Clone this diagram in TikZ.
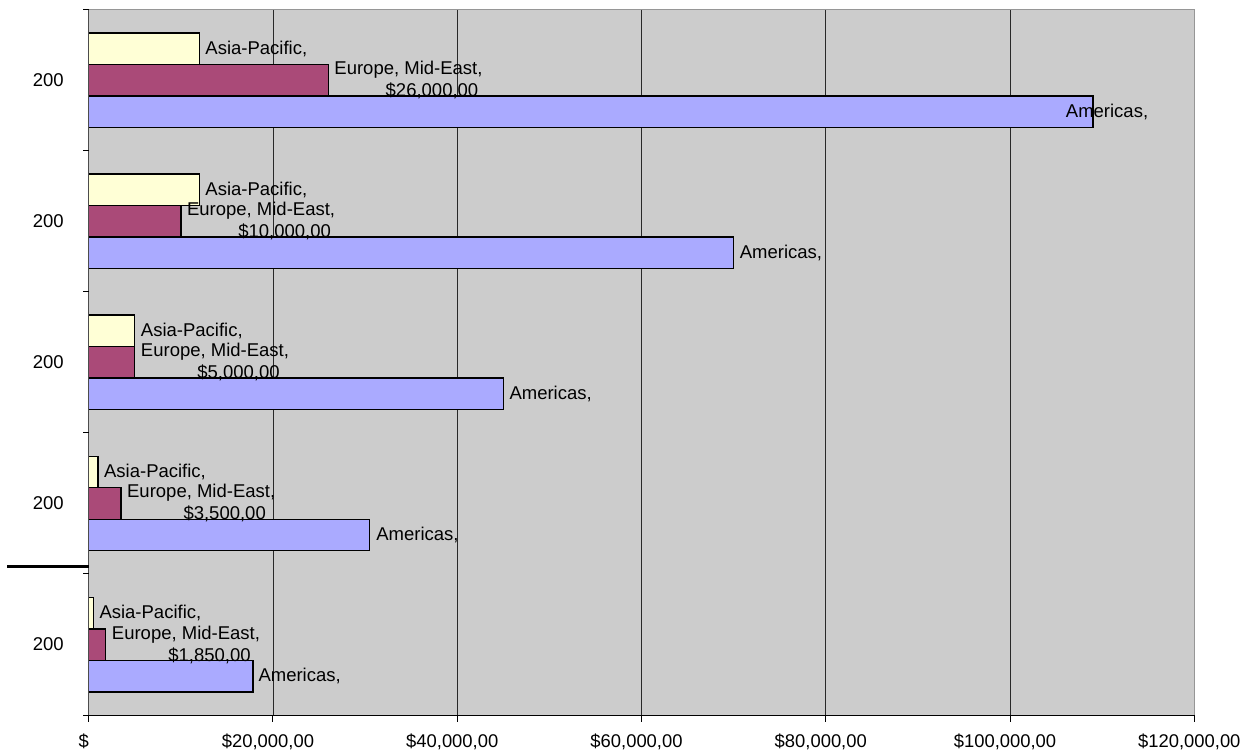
\documentclass[tikz,border=0pt]{standalone}
\usepackage{fontspec}
\setmainfont{Liberation Sans}
\definecolor{plotbg}{RGB}{204,204,204}
\definecolor{asiac}{RGB}{255,255,214}
\definecolor{euroc}{RGB}{170,74,120}
\definecolor{amerc}{RGB}{170,170,255}
\definecolor{gridc}{RGB}{40,40,40}
\definecolor{borderc}{RGB}{150,150,150}
\tikzset{
  bar/.style={draw=black, line width=1.4pt},
  gridline/.style={draw=gridc, line width=0.9pt},
  plotborder/.style={draw=borderc, line width=1.4pt},
  axisline/.style={draw=black, line width=1pt},
  tickmark/.style={draw=black, line width=1pt},
  lab/.style={inner sep=0pt, font=\fontsize{18.5}{22}\selectfont},
  ticklab/.style={inner sep=0pt, font=\fontsize{18.4}{22}\selectfont},
}
\begin{document}
\begin{tikzpicture}[x=1pt,y=-1pt]
\useasboundingbox (0,0) rectangle (1252,753);
% plot area
\fill[plotbg] (88.7,9.3) rectangle (1194.3,715);
\foreach \v in {1,...,5}
  \draw[gridline] ({88.7+\v*184.27},9.3) -- ({88.7+\v*184.27},715);
\draw[plotborder] (88.7,9.3) -- (1194.3,9.3) -- (1194.3,715);
% bars
\foreach \k/\a/\e/\m in {0/12/26/109, 1/12/10/70, 2/5/5/45, 3/1/3.5/30.5, 4/0.5/1.85/17.85}{
  \pgfmathsetmacro{\t}{9.3+141.14*\k}
  \draw[bar, fill=asiac] (88.7,\t+23.5) rectangle ({88.7+\a*9.2133},\t+55);
  \draw[bar, fill=euroc] (88.7,\t+55) rectangle ({88.7+\e*9.2133},\t+86.5);
  \draw[bar, fill=amerc] (88.7,\t+86.5) rectangle ({88.7+\m*9.2133},\t+118);
}
% axes
\draw[draw=black!70, line width=1.2pt] (88.7,9.3) -- (88.7,715);
\draw[axisline] (88.7,715) -- (1194.3,715);
\foreach \k in {0,...,5}
  \draw[tickmark] (83,{9.3+141.14*\k}) -- (88.7,{9.3+141.14*\k});
\foreach \v in {0,...,6}
  \draw[tickmark] ({88.7+\v*184.27},715) -- ({88.7+\v*184.27},721.5);
% data labels
\foreach \k/\a/\e/\ml/\val in {0/12/26/1065.7/{\$26,000,00}, 1/12/10/739.6/{\$10,000,00}, 2/5/5/509.3/{\$5,000,00}, 3/1/3.5/376.2/{\$3,500,00}, 4/0.5/1.85/258.3/{\$1,850,00}}{
  \pgfmathsetmacro{\t}{9.3+141.14*\k}
  \node[lab, anchor=west] (asialab\k) at ({88.7+\a*9.2133+6},\t+39.25) {Asia-Pacific,};
  \node[lab, anchor=west, align=center] (eurolab\k) at ({88.7+\e*9.2133+6},\t+70.75) {Europe, Mid-East,\\\hspace*{47pt}\val};
  \node[lab, anchor=west] (amerlab\k) at (\ml,\t+102.25) {Americas,};
  \node[lab] (ylab\k) at (48.3,\t+70.57) {200};
}
% x tick labels
\foreach \v/\txt in {0/{\$}, 1/{\$20,000,00}, 2/{\$40,000,00}, 3/{\$60,000,00}, 4/{\$80,000,00}, 5/{\$100,000,00}, 6/{\$120,000,00}}
  \node[ticklab] (xlab\v) at ({88.7+\v*184.27-5},741.7) {\txt};
% stray line at left
\draw[line width=2.6pt] (7.3,566.7) -- (88.7,566.7);
\end{tikzpicture}
\end{document}
